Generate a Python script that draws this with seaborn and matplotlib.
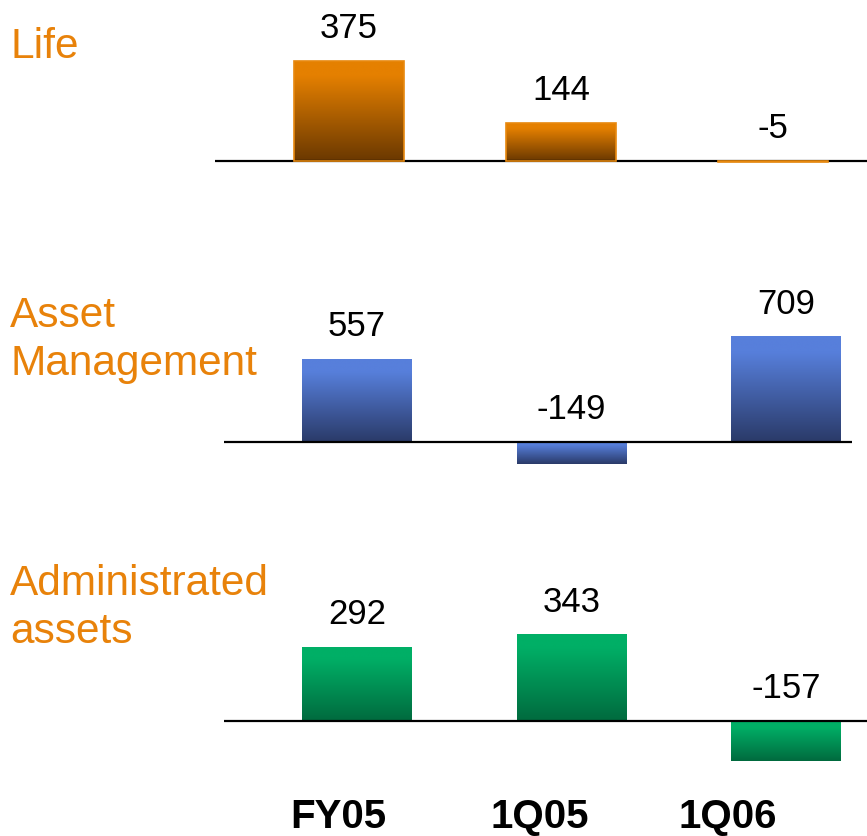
import numpy as np
import pandas as pd
import matplotlib.pyplot as plt
import seaborn as sns
from matplotlib.colors import LinearSegmentedColormap

# data
periods = ['FY05', '1Q05', '1Q06']
life = [375, 144, -5]
asset_mgmt = [557, -149, 709]
admin_assets = [292, 343, -157]
row_names = ['Life', 'Asset\nManagement', 'Administrated\nassets']

sns.set_style('white')
plt.rcParams['font.family'] = ['Liberation Sans', 'DejaVu Sans']

W, H = 867, 837
fig = plt.figure(figsize=(W / 100, H / 100), dpi=100)

# (top colour, bottom colour, edge colour)
palettes = [
    ('#E58000', '#6A3800', '#E8890F'),
    ('#577FDB', '#2A3A68', 'none'),
    ('#00AF66', '#006A3E', 'none'),
]

# pixel layout per row: line left/right, zero line, px per unit, first/last bar centre, axes top/bottom
layouts = [
    dict(left=215, right=867, zero=162, scale=0.267, c0=349, c2=773, top=0, bottom=240),
    dict(left=224, right=852, zero=443, scale=0.149, c0=357, c2=786, top=250, bottom=520),
    dict(left=224, right=867, zero=722, scale=0.2526, c0=357, c2=786, top=530, bottom=790),
]
label_tops = [27, 296, 564]
orange_text = '#E8820A'

for values, name, pal, lay, ltop in zip([life, asset_mgmt, admin_assets], row_names,
                                        palettes, layouts, label_tops):
    ax = fig.add_axes([lay['left'] / W, 1 - lay['bottom'] / H,
                       (lay['right'] - lay['left']) / W, (lay['bottom'] - lay['top']) / H])
    d = (lay['c2'] - lay['c0']) / 2
    df = pd.DataFrame({'period': periods, 'value': values})
    sns.barplot(data=df, x='period', y='value', ax=ax, width=110 / d,
                color=pal[0], edgecolor=pal[2], linewidth=1.2)

    xlim = ((lay['left'] - lay['c0']) / d, (lay['right'] - lay['c0']) / d)
    ylim = ((lay['zero'] - lay['bottom']) / lay['scale'], (lay['zero'] - lay['top']) / lay['scale'])

    # vertical gradient: dark at the bottom, bright at the top
    cmap = LinearSegmentedColormap.from_list('g', [(0, pal[1]), (0.85, pal[0]), (1, pal[0])])
    grad = np.linspace(0, 1, 256).reshape(-1, 1)
    for patch in ax.patches:
        x, y = patch.get_x(), patch.get_y()
        w, h = patch.get_width(), patch.get_height()
        y0, y1 = min(y, y + h), max(y, y + h)
        im = ax.imshow(grad, cmap=cmap, aspect='auto', origin='lower',
                       extent=[x, x + w, y0, y1], zorder=patch.get_zorder())
        im.set_clip_path(patch)
        patch.set_facecolor('none')
        patch.set_zorder(patch.get_zorder() + 0.5)

    ax.axhline(0, color='black', lw=1.6, zorder=1)
    for i, v in enumerate(values):
        ax.annotate(str(v), (i, max(v, 0)), xytext=(0, 24), textcoords='offset points',
                    ha='center', va='center', fontsize=25, color='black')

    ax.set_xlim(xlim)
    ax.set_ylim(ylim)
    ax.axis('off')

    fig.text(10 / W, 1 - ltop / H, name, fontsize=30.5, color=orange_text,
             ha='left', va='top', linespacing=1.25)

# bottom period labels
for lbl, cx in zip(periods, [338, 540, 728]):
    fig.text(cx / W, 1 / H, lbl, fontsize=29, fontweight='bold',
             ha='center', va='bottom', color='black')

fig.savefig('out.png', dpi=100)
